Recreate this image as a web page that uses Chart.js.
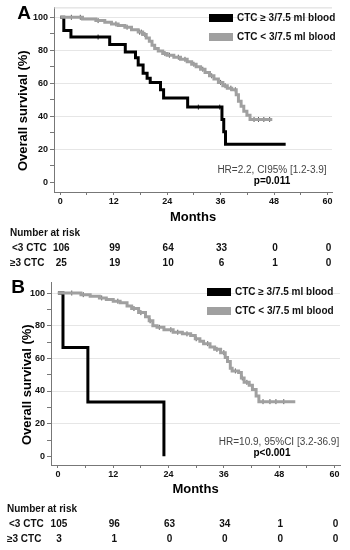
<!DOCTYPE html>
<html lang="en">
<head>
<meta charset="UTF-8">
<title>Overall survival by CTC count</title>
<script src="https://cdn.jsdelivr.net/npm/chart.js"></script>
<style>
  html, body { margin: 0; padding: 0; background: #fff; }
  .panel { position: absolute; left: 0; width: 350px; height: 275px; }
  #panelA { top: 0; }
  #panelB { top: 275px; }
</style>
</head>
<body>
<div class="panel" id="panelA"><canvas id="chartA" width="350" height="275"></canvas></div>
<div class="panel" id="panelB"><canvas id="chartB" width="350" height="275"></canvas></div>

<script>
// ---- values ----
const seriesLabels = ['CTC \u2265 3/7.5 ml blood', 'CTC < 3/7.5 ml blood'];
const riskGroups = ['<3 CTC', '\u22653 CTC'];
const monthTicks = [0, 12, 24, 36, 48, 60];
const monthMinor = [0, 6, 12, 18, 24, 30, 36, 42, 48, 54, 60];
const survTicks = [0, 10, 20, 30, 40, 50, 60, 70, 80, 90, 100];

// Panel A : CTC >= 3 (black)
const aHighMonths = [0, 0.8, 2.4, 11.1, 14.6, 16.9, 17.5, 18.6, 19.5, 20.2, 22.5, 23.2, 28.6, 36.3, 36.7, 37.1, 50.6];
const aHighSurv   = [100, 92, 88, 83.5, 79, 75.5, 71, 66, 63, 60.5, 56, 51, 45.5, 38, 30.5, 23, 23];
const aHighCensor = [8.5, 31, 35.8];

// Panel A : CTC < 3 (grey)
const aLowMonths = [0, 5, 8, 10, 11.5, 13, 14.5, 16, 17.5, 18.5, 19.3, 20, 20.6, 21.2, 22, 23, 24, 25.5, 27, 28.5, 29.5, 30.5, 31.5, 32.5, 33.5, 34.5, 35.5, 36.5, 37.5, 38.5, 39.5, 40, 40.6, 41.2, 41.9, 42.6, 47.6];
const aLowSurv   = [100, 99, 98, 97, 96, 95, 94, 92.5, 91, 89.5, 87.5, 85.5, 83, 81, 79.5, 78, 77, 75.8, 74.5, 73, 71.5, 70, 68.5, 66.5, 64.5, 62.5, 60.5, 58.5, 57, 56, 53, 49, 46, 43, 40.5, 38, 38];
const aLowCensor = [2.5, 4.5, 8.5, 12.5, 15, 17.8, 18.2, 19, 23.5, 24.5, 26.5, 28, 30, 32, 34, 36, 37, 38.3, 39.3, 43.5, 44.5, 45.7, 47];

// Panel B : CTC >= 3 (black)
const bHighMonths = [0, 1.1, 6.5, 23.0];
const bHighSurv   = [100, 66.7, 33.3, 0];

// Panel B : CTC < 3 (grey)
const bLowMonths = [0, 5, 7, 9, 10.5, 12, 13.5, 15, 16, 17.5, 19, 19.8, 20.6, 21.5, 23, 25, 27, 28.8, 29.8, 30.8, 31.6, 33, 34, 35.3, 36.3, 36.8, 37.4, 37.8, 39.2, 39.8, 40.4, 41.5, 42.2, 43, 43.6, 51.5];
const bLowSurv   = [100, 99, 98, 97, 96, 95, 94, 92, 90.5, 88, 85.5, 83, 80, 79, 77.5, 76, 75, 74, 72, 70.5, 69, 67, 65.5, 63.5, 60.5, 58, 54, 52.3, 51.3, 48, 45.3, 43.5, 41, 37, 33.5, 33.5];
const bLowCensor = [3, 5.5, 9.5, 13, 16.5, 18, 20, 22, 24.5, 26, 28, 30, 32.5, 34.5, 36, 38.5, 40, 41, 44.5, 46, 47.3, 49];

// number at risk
const aRiskLow  = [106, 99, 64, 33, 0, 0];
const aRiskHigh = [25, 19, 10, 6, 1, 0];
const bRiskLow  = [105, 96, 63, 34, 1, 0];
const bRiskHigh = [3, 1, 0, 0, 0, 0];

// ---- drawing ----
const FONT = '"Liberation Sans", Arial, Helvetica, sans-serif';
Chart.defaults.font.family = FONT;
const BLACK = '#000000';
const GREY = '#a0a0a0';

function points(months, surv) {
  return months.map((m, i) => ({ x: m, y: surv[i] }));
}

// value of the step curve at time t (for placing censor ticks)
function survAt(months, surv, t) {
  let v = surv[0];
  for (let i = 0; i < months.length; i++) {
    if (months[i] <= t) v = surv[i];
  }
  return v;
}

function censorPoints(months, surv, times) {
  return times.map(t => ({ x: t, y: survAt(months, surv, t) }));
}

function kmDecor(cfg) {
  return {
    id: 'kmDecor',
    afterDraw(chart) {
      const ctx = chart.ctx;
      const area = chart.chartArea;
      const xs = chart.scales.x;
      ctx.save();
      ctx.fillStyle = '#000';

      if (cfg.topBorder) {
        ctx.strokeStyle = '#d8d8d8';
        ctx.lineWidth = 1;
        ctx.beginPath();
        ctx.moveTo(area.left, area.top + 0.5);
        ctx.lineTo(area.right, area.top + 0.5);
        ctx.stroke();
      }

      // panel letter
      ctx.font = 'bold 19px ' + FONT;
      ctx.textAlign = 'center';
      ctx.textBaseline = 'middle';
      ctx.fillText(cfg.letter, cfg.letterX, cfg.letterY);

      // y axis title
      ctx.save();
      ctx.translate(cfg.yTitleX, (area.top + area.bottom) / 2 + 11);
      ctx.rotate(-Math.PI / 2);
      ctx.font = 'bold 13px ' + FONT;
      ctx.fillText('Overall survival (%)', 0, 0);
      ctx.restore();

      // legend
      ctx.font = 'bold 10px ' + FONT;
      ctx.textAlign = 'left';
      [BLACK, GREY].forEach((col, i) => {
        const y = cfg.legendY + i * 19;
        ctx.fillStyle = col;
        ctx.fillRect(cfg.legendX, y - 4, 24, 8);
        ctx.fillStyle = '#111';
        ctx.fillText(seriesLabels[i], cfg.legendX + 28, y);
      });

      // hazard ratio and p value
      ctx.textAlign = 'center';
      ctx.font = '10px ' + FONT;
      ctx.fillStyle = '#444';
      ctx.fillText(cfg.hrText, cfg.hrX, cfg.hrY);
      ctx.font = 'bold 10px ' + FONT;
      ctx.fillStyle = '#000';
      ctx.fillText(cfg.pText, cfg.pX, cfg.hrY + 11);

      // number at risk table
      ctx.font = 'bold 10px ' + FONT;
      ctx.fillStyle = '#111';
      ctx.textAlign = 'left';
      ctx.fillText('Number at risk', cfg.riskX, cfg.riskY);
      const rows = [cfg.riskLow, cfg.riskHigh];
      rows.forEach((vals, r) => {
        const y = cfg.riskY + 15 * (r + 1);
        ctx.textAlign = 'left';
        ctx.fillText(riskGroups[r], cfg.riskX + 2 - r * 2, y);
        ctx.textAlign = 'center';
        vals.forEach((v, i) => {
          ctx.fillText(String(v), xs.getPixelForValue(monthTicks[i]) + 1, y);
        });
      });
      ctx.restore();
    }
  };
}

function makeChart(id, d) {
  const tickFont = { size: 9, weight: 'bold', family: FONT };
  return new Chart(document.getElementById(id), {
    type: 'scatter',
    data: {
      datasets: [
        {
          label: seriesLabels[1],
          data: points(d.lowMonths, d.lowSurv),
          showLine: true, stepped: true,
          borderColor: GREY, borderWidth: 3, pointRadius: 0, fill: false
        },
        {
          label: seriesLabels[0],
          data: points(d.highMonths, d.highSurv),
          showLine: true, stepped: true,
          borderColor: BLACK, borderWidth: 3, pointRadius: 0, fill: false
        },
        {
          label: 'censored <3',
          data: censorPoints(d.lowMonths, d.lowSurv, d.lowCensor),
          showLine: false, pointStyle: 'line', rotation: 90,
          pointRadius: 2.5, borderColor: '#555', borderWidth: 1
        },
        {
          label: 'censored >=3',
          data: censorPoints(d.highMonths, d.highSurv, d.highCensor),
          showLine: false, pointStyle: 'line', rotation: 90,
          pointRadius: 2.5, borderColor: '#222', borderWidth: 1
        }
      ]
    },
    options: {
      responsive: false,
      animation: false,
      layout: { padding: d.padding },
      plugins: { legend: { display: false }, tooltip: { enabled: false } },
      scales: {
        x: {
          type: 'linear', min: d.xMin, max: d.xMax,
          afterBuildTicks: s => { s.ticks = monthMinor.map(v => ({ value: v })); },
          afterFit: s => { s.height = 35; },
          ticks: {
            callback: v => monthTicks.includes(v) ? v : '',
            font: tickFont, color: '#111', padding: 1,
            maxRotation: 0, autoSkip: false
          },
          grid: { drawOnChartArea: false, tickLength: 3, tickColor: '#777' },
          border: { color: '#777', width: 1 },
          title: {
            display: true, text: 'Months', color: '#000',
            font: { size: 13, weight: 'bold', family: FONT },
            padding: { top: 0, bottom: d.monthsPad }
          }
        },
        y: {
          type: 'linear', min: d.yMin, max: d.yMax,
          afterBuildTicks: s => { s.ticks = survTicks.map(v => ({ value: v })); },
          afterFit: s => { s.width = d.yWidth; },
          ticks: {
            callback: v => v % 20 === 0 ? v : '',
            font: tickFont, color: '#111', padding: 2, autoSkip: false
          },
          grid: {
            color: c => (c.tick && c.tick.value > 0 && c.tick.value % 20 === 0) ? '#e6e6e6' : 'rgba(0,0,0,0)',
            tickLength: 4, tickColor: '#777'
          },
          border: { color: '#777', width: 1 }
        }
      }
    },
    plugins: [kmDecor(d.decor)]
  });
}

makeChart('chartA', {
  lowMonths: aLowMonths, lowSurv: aLowSurv, lowCensor: aLowCensor,
  highMonths: aHighMonths, highSurv: aHighSurv, highCensor: aHighCensor,
  xMin: -1.4, xMax: 61, yMin: -6, yMax: 106,
  yWidth: 54, monthsPad: 2,
  padding: { left: 0, top: 4, right: 18, bottom: 48 },
  decor: {
    letter: 'A', letterX: 24, letterY: 14, yTitleX: 23, topBorder: true,
    legendX: 209, legendY: 18,
    hrText: 'HR=2.2, CI95% [1.2-3.9]', hrX: 272, hrY: 170,
    pText: 'p=0.011', pX: 272,
    riskX: 10, riskY: 233, riskLow: aRiskLow, riskHigh: aRiskHigh
  }
});

makeChart('chartB', {
  lowMonths: bLowMonths, lowSurv: bLowSurv, lowCensor: bLowCensor,
  highMonths: bHighMonths, highSurv: bHighSurv, highCensor: [],
  xMin: -1.5, xMax: 61.2, yMin: -5.3, yMax: 106.5,
  yWidth: 51, monthsPad: 3,
  padding: { left: 0, top: 2, right: 10, bottom: 50 },
  decor: {
    letter: 'B', letterX: 18, letterY: 13, yTitleX: 27, topBorder: false,
    legendX: 207, legendY: 17,
    hrText: 'HR=10.9, 95%CI [3.2-36.9]', hrX: 279, hrY: 167,
    pText: 'p<0.001', pX: 272,
    riskX: 7, riskY: 234, riskLow: bRiskLow, riskHigh: bRiskHigh
  }
});
</script>
</body>
</html>
